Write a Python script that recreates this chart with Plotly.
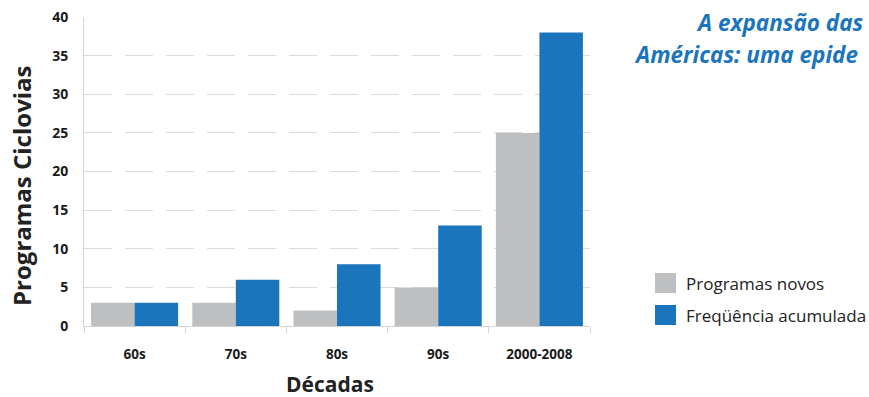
import plotly.graph_objects as go

categories = ["60s", "70s", "80s", "90s", "2000-2008"]
programas_novos = [3, 3, 2, 5, 25]
frequencia_acumulada = [3, 6, 8, 13, 38]
series_names = ["Programas novos", "Freqüência acumulada"]
y_ticks = [0, 5, 10, 15, 20, 25, 30, 35, 40]
title_lines = ["A expansão das", "Américas: uma epide"]

GRAY = "#bebfc1"
BLUE = "#1b75bc"
FONT = "Open Sans"
TXT = "#1a1a1a"

fig = go.Figure()
fig.add_trace(go.Bar(x=categories, y=programas_novos, name=series_names[0],
                     marker=dict(color=GRAY, line=dict(width=0)), showlegend=False))
fig.add_trace(go.Bar(x=categories, y=frequencia_acumulada, name=series_names[1],
                     marker=dict(color=BLUE, line=dict(width=0)), showlegend=False))

L, R, T, B = 84, 590, 17, 326
fig.update_layout(
    width=869, height=397,
    margin=dict(l=L, r=869 - R, t=T, b=397 - B, autoexpand=False),
    paper_bgcolor="white", plot_bgcolor="white",
    barmode="group", bargap=0.14, bargroupgap=0,
    font=dict(family=FONT, color=TXT),
)
fig.update_xaxes(
    type="category", showline=True, linecolor="#d4d4d4", linewidth=1,
    ticks="outside", tickson="boundaries", ticklen=6, tickcolor="#d4d4d4",
    showgrid=False, ticklabelstandoff=16, automargin=False,
    tickfont=dict(family=FONT, size=13.5, color=TXT, weight="bold"),
)
fig.update_yaxes(
    range=[0, 40], tickvals=y_ticks, showline=True, linecolor="#d4d4d4", linewidth=1,
    showgrid=True, gridcolor="#dcdcdc", gridwidth=1, griddash="28px,13px",
    zeroline=False, ticks="", ticklabelstandoff=12, automargin=False,
    tickfont=dict(family=FONT, size=14, color=TXT, weight="bold"),
)

def px(xp):
    return (xp - L) / (R - L)

def py(yp):
    return (B - yp) / (B - T)

fig.add_annotation(text="<b>Décadas</b>", x=px(330), y=py(384), xref="paper", yref="paper",
                   showarrow=False, font=dict(family=FONT, size=21, color="#222"),
                   xanchor="center", yanchor="middle")
fig.add_annotation(text="<b>Programas Ciclovias</b>", x=px(21), y=py(186), xref="paper", yref="paper",
                   showarrow=False, textangle=-90, font=dict(family=FONT, size=24, color="#222"),
                   xanchor="center", yanchor="middle")
fig.add_annotation(text="<b><i>" + title_lines[0] + "</i></b>", x=px(694), y=py(23), xref="paper", yref="paper",
                   showarrow=False, font=dict(family=FONT, size=22.5, color=BLUE),
                   xanchor="left", yanchor="middle")
fig.add_annotation(text="<b><i>" + title_lines[1] + "</i></b>", x=px(632), y=py(55), xref="paper", yref="paper",
                   showarrow=False, font=dict(family=FONT, size=22.5, color=BLUE),
                   xanchor="left", yanchor="middle")

# manual legend
for i, (name, col) in enumerate(zip(series_names, [GRAY, BLUE])):
    yc = 283 + i * 32
    fig.add_shape(type="rect", xref="paper", yref="paper",
                  x0=px(655), x1=px(676), y0=py(yc - 10), y1=py(yc + 10),
                  fillcolor=col, line=dict(width=0))
    fig.add_annotation(text=name, x=px(684), y=py(yc), xref="paper", yref="paper",
                       showarrow=False, font=dict(family=FONT, size=17, color="#222"),
                       xanchor="left", yanchor="middle")

fig.write_html("out.html")
